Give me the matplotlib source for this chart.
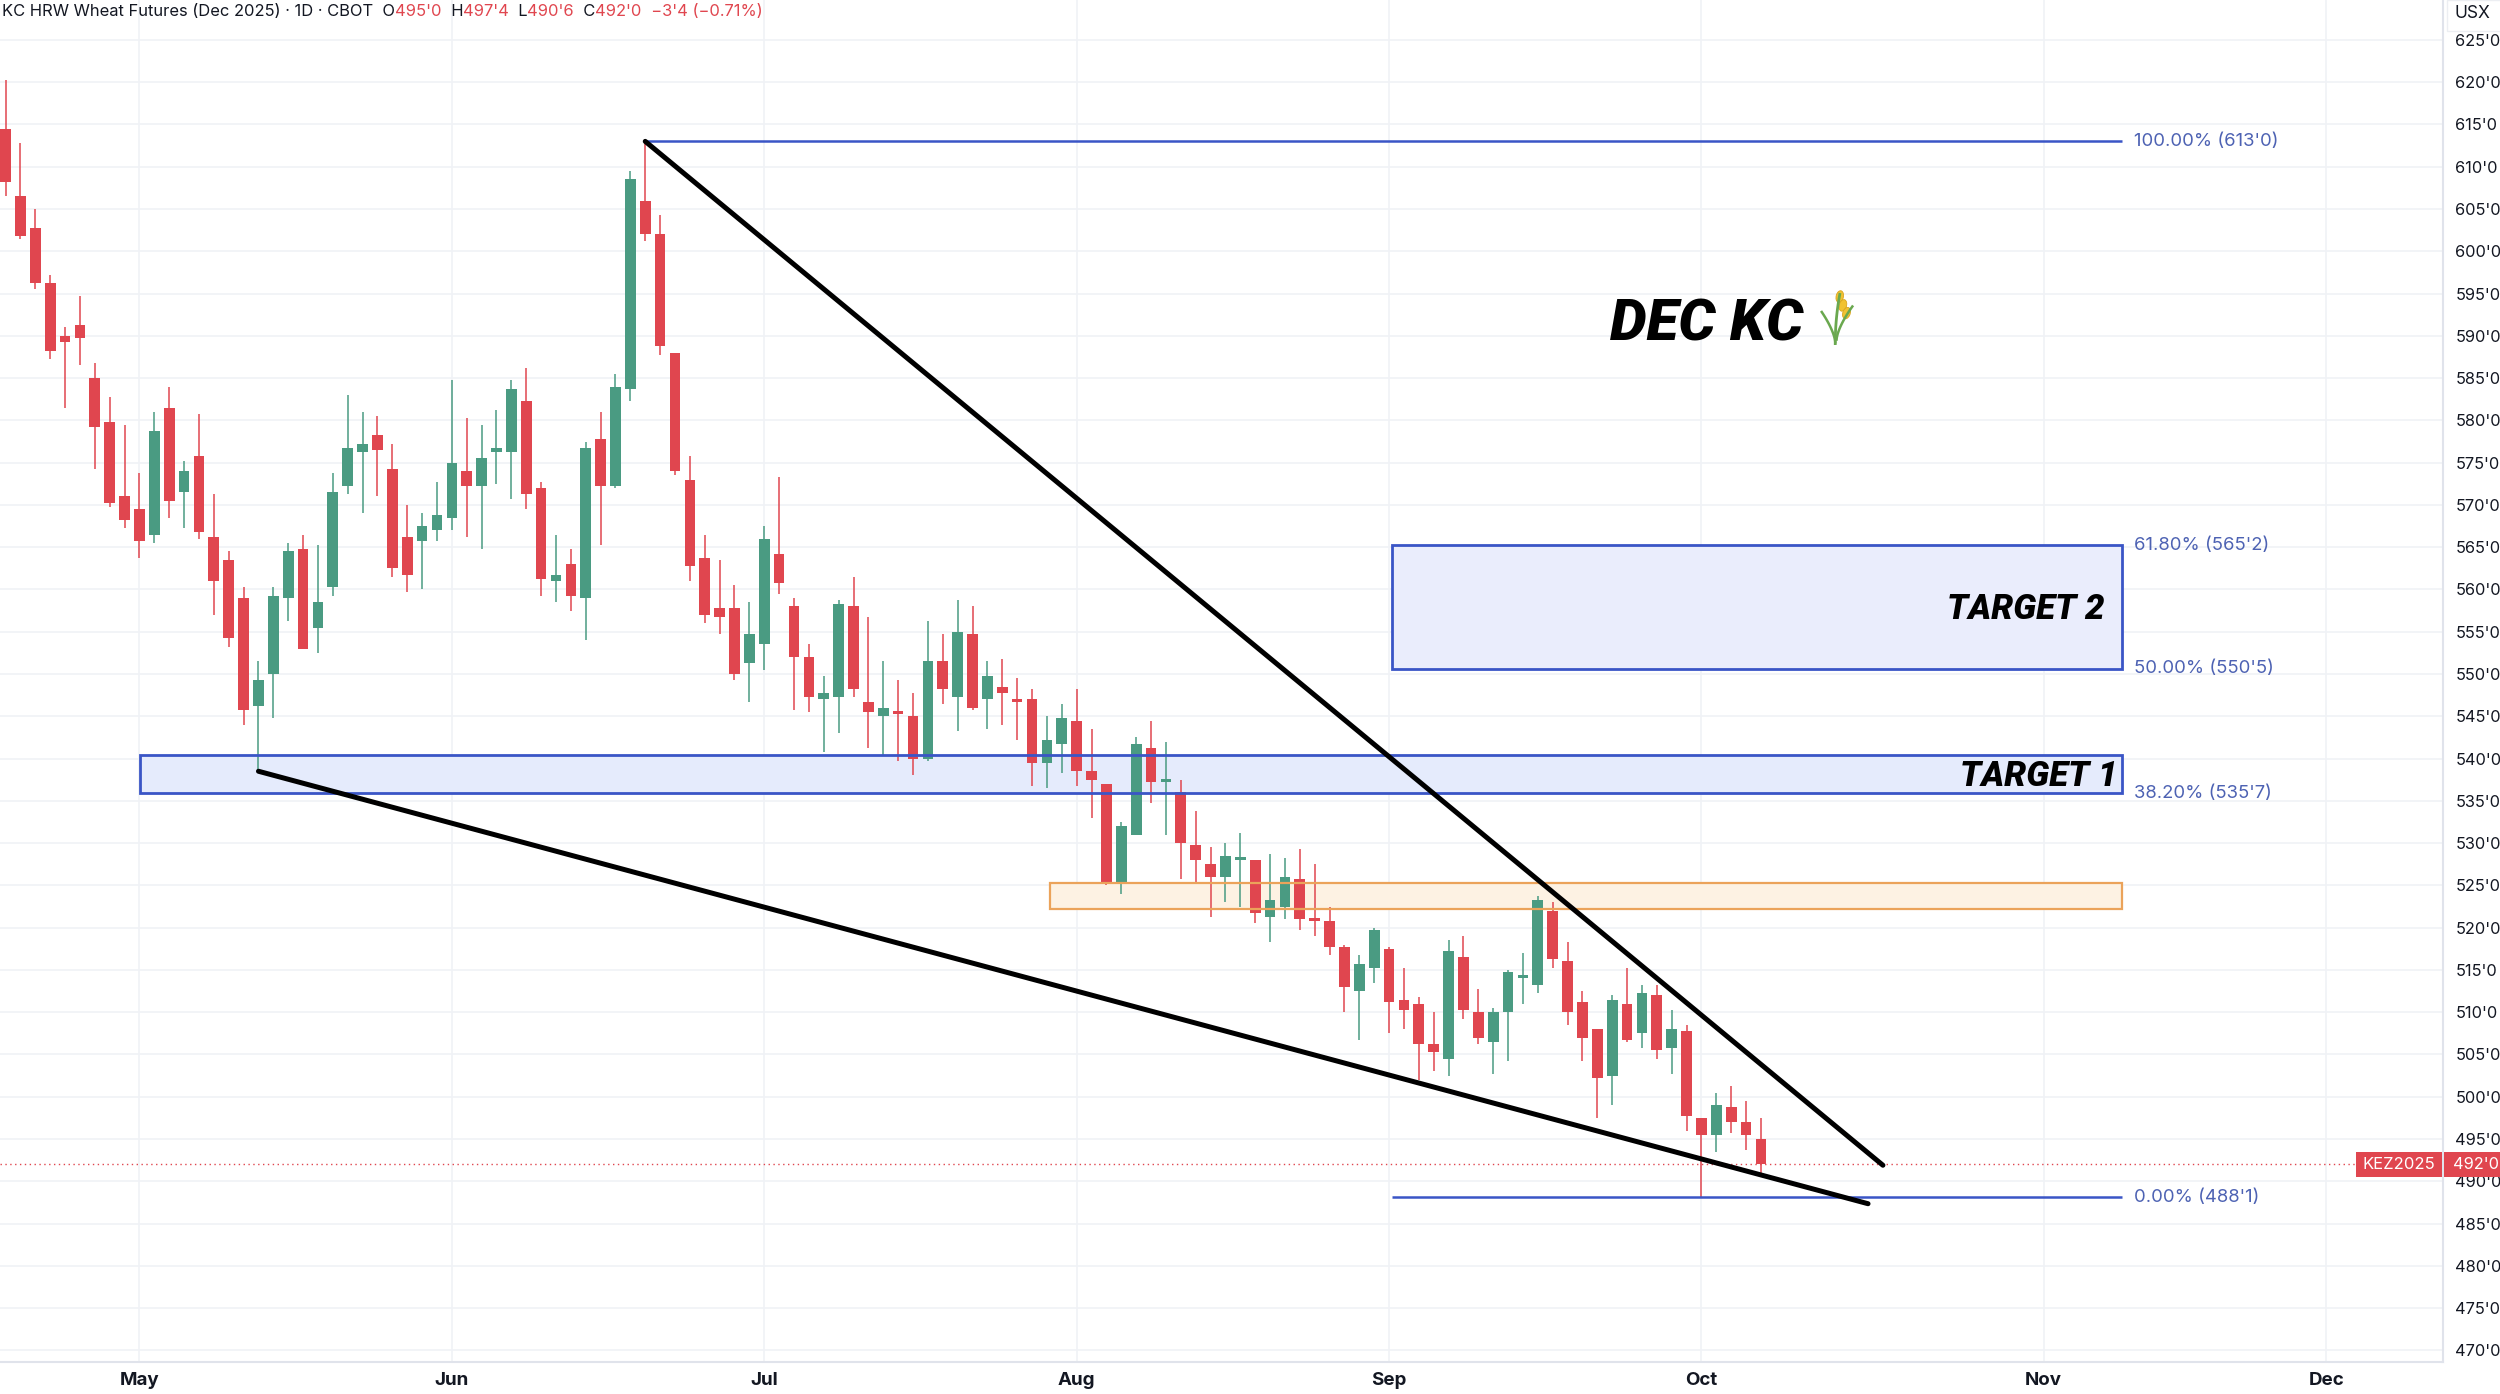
import numpy as np
import matplotlib.pyplot as plt
from matplotlib.patches import Rectangle, Ellipse
from matplotlib.transforms import blended_transform_factory

# daily OHLC, one bar per trading day (bar 0 = mid April 2025, last = Oct 7)
opens = [614.5, 606.5, 602.75, 596.25, 590.0, 591.25, 585.0, 579.75, 571.0, 569.5,
         566.5, 581.5, 571.5, 575.75, 566.25, 563.5, 559.0, 546.25, 550.0, 559.0,
         564.75, 555.5, 560.25, 572.25, 576.25, 578.25, 574.25, 566.25, 565.75, 567.0,
         568.5, 574.0, 572.25, 576.25, 576.25, 582.25, 572.0, 561.0, 563.0, 559.0,
         577.75, 572.25, 583.75, 606.0, 602.0, 588.0, 573.0, 563.75, 557.75, 557.75,
         551.25, 553.5, 564.25, 558.0, 552.0, 547.0, 547.25, 558.0, 546.75, 545.0,
         545.5, 545.0, 540.0, 551.5, 547.25, 554.75, 547.0, 548.5, 547.0, 547.0,
         539.5, 541.75, 544.5, 538.5, 537.0, 525.25, 531.0, 541.25, 537.25, 536.0,
         529.75, 527.5, 526.0, 528.0, 528.0, 521.25, 522.5, 525.75, 521.0, 520.75,
         517.75, 512.5, 515.25, 517.5, 511.5, 511.0, 506.25, 504.5, 516.5, 510.0,
         506.5, 510.0, 514.0, 513.25, 522.0, 516.0, 511.25, 508.0, 502.5, 511.0,
         507.5, 512.0, 505.75, 507.75, 497.5, 495.5, 498.75, 497.0, 495.0]
highs = [620.25, 612.75, 605.0, 597.25, 591.0, 594.75, 586.75, 582.75, 579.5, 573.75,
         581.0, 584.0, 575.25, 580.75, 571.25, 564.5, 560.25, 551.5, 560.25, 565.5,
         566.5, 565.25, 573.75, 583.0, 581.0, 580.5, 577.25, 570.0, 569.0, 572.75,
         584.75, 580.25, 579.5, 581.25, 584.75, 586.25, 572.75, 566.5, 564.75, 577.5,
         581.0, 585.5, 609.5, 613.0, 604.25, 588.0, 575.75, 566.5, 563.5, 560.5,
         558.5, 567.5, 573.25, 559.0, 553.5, 549.75, 558.75, 561.5, 556.75, 551.5,
         549.25, 547.75, 556.25, 554.75, 558.75, 558.0, 551.5, 551.75, 549.5, 548.25,
         545.0, 546.5, 548.25, 543.5, 537.0, 532.5, 542.5, 544.5, 542.0, 537.5,
         533.75, 529.5, 530.0, 531.25, 528.0, 528.75, 528.25, 529.25, 527.5, 522.5,
         518.0, 516.75, 520.0, 517.75, 515.25, 511.75, 510.0, 518.5, 519.0, 512.75,
         510.5, 515.0, 517.0, 523.75, 523.0, 518.25, 512.5, 508.0, 512.0, 515.25,
         513.25, 513.25, 510.25, 508.5, 497.5, 500.5, 501.25, 499.5, 497.5]
lows = [606.5, 601.5, 595.5, 587.25, 581.5, 586.5, 574.25, 569.75, 567.25, 563.75,
        565.5, 568.5, 567.25, 566.0, 557.0, 553.25, 544.0, 538.5, 544.75, 556.25,
        553.0, 552.5, 559.25, 571.25, 569.0, 571.0, 561.5, 559.75, 560.0, 565.75,
        567.0, 566.25, 564.75, 572.5, 570.75, 569.5, 559.25, 558.5, 557.5, 554.0,
        565.25, 572.0, 582.25, 601.25, 587.75, 573.5, 561.0, 556.0, 554.75, 549.25,
        546.75, 550.5, 559.5, 545.75, 545.5, 540.75, 543.0, 547.25, 541.25, 540.25,
        539.75, 538.0, 539.75, 546.5, 543.25, 545.75, 543.5, 544.0, 542.25, 536.75,
        536.5, 538.25, 536.75, 533.0, 525.0, 524.0, 531.0, 534.75, 531.0, 525.75,
        525.25, 521.25, 523.0, 522.5, 520.5, 518.25, 521.0, 519.75, 519.0, 516.75,
        510.0, 506.75, 513.5, 507.5, 508.0, 502.0, 503.0, 502.5, 509.25, 506.25,
        502.75, 504.25, 511.0, 512.25, 515.25, 508.5, 504.25, 497.5, 499.0, 506.5,
        505.75, 504.5, 502.75, 496.0, 488.125, 493.5, 495.75, 493.75, 490.75]
closes = [608.25, 601.75, 596.25, 588.25, 589.25, 589.75, 579.25, 570.25, 568.25, 565.75,
          578.75, 570.5, 574.0, 566.75, 561.0, 554.25, 545.75, 549.25, 559.25, 564.5,
          553.0, 558.5, 571.5, 576.75, 577.25, 576.5, 562.5, 561.75, 567.5, 568.75,
          575.0, 572.25, 575.5, 576.75, 583.75, 571.25, 561.25, 561.75, 559.25, 576.75,
          572.25, 584.0, 608.5, 602.0, 588.75, 574.0, 562.75, 557.0, 556.75, 550.0,
          554.75, 566.0, 560.75, 552.0, 547.25, 547.75, 558.25, 548.25, 545.5, 546.0,
          545.25, 540.0, 551.5, 548.25, 555.0, 546.0, 549.75, 547.75, 546.75, 539.5,
          542.25, 544.75, 538.5, 537.5, 525.25, 532.0, 541.75, 537.25, 537.5, 530.0,
          528.0, 526.0, 528.5, 528.25, 521.75, 523.25, 526.0, 521.0, 520.75, 517.75,
          513.0, 515.75, 519.75, 511.25, 510.25, 506.25, 505.25, 517.25, 510.25, 507.0,
          510.0, 514.75, 514.0, 523.25, 516.25, 510.0, 507.0, 502.25, 511.5, 506.75,
          512.25, 505.5, 508.0, 497.75, 495.5, 499.0, 497.0, 495.5, 492.0]

month_labels = ["May", "Jun", "Jul", "Aug", "Sep", "Oct", "Nov", "Dec"]
month_bars = [9, 30, 51, 72, 93, 114, 137, 156]

fib_levels = [613.0, 565.25, 550.625, 535.875, 488.125]
fib_texts = ["100.00% (613'0)", "61.80% (565'2)", "50.00% (550'5)",
             "38.20% (535'7)", "0.00% (488'1)"]
target1_top = 540.375
zone_low, zone_high = 522.25, 525.25
last_price = 492.0

W, H = 2500, 1394
GREEN = "#4a9b82"
RED = "#e0464f"
BLUE = "#3a55c6"
FIBTXT = "#4d62b3"
TXT = "#131722"

fig = plt.figure(figsize=(W / 100, H / 100), dpi=100)
ax = fig.add_axes([0, 32 / H, 2443 / W, 1362 / H])
ax.set_xlim(-0.375, 163.85)
ax.set_ylim(468.63, 629.72)

# candles
x = np.arange(len(opens))
o, h, l, c = (np.array(v) for v in (opens, highs, lows, closes))
cols = np.where(c >= o, GREEN, RED)
ax.vlines(x, l, h, colors=cols, lw=1.1, zorder=3)
ax.bar(x, np.maximum(np.abs(c - o), 0.35), bottom=np.minimum(o, c),
       width=0.72, color=cols, linewidth=0, zorder=4)

# zones
x_fib0, x_fib1 = 93.2, 142.3
def zone(x0, x1, y0, y1, fc, ec, lw):
    ax.add_patch(Rectangle((x0, y0), x1 - x0, y1 - y0, fc=fc, ec="none", zorder=2))
    ax.add_patch(Rectangle((x0, y0), x1 - x0, y1 - y0, fc="none", ec=ec, lw=lw, zorder=5))

zone(9.06, x_fib1, fib_levels[3], target1_top, "#e5ebfc", BLUE, 2.0)
zone(x_fib0, x_fib1, fib_levels[2], fib_levels[1], "#eaedfc", BLUE, 2.0)
zone(70.2, x_fib1, zone_low, zone_high, "#fdf2e3", "#eba35a", 1.6)

ax.hlines(fib_levels[0], 43, x_fib1, color=BLUE, lw=1.8, zorder=5)
ax.hlines(fib_levels[4], x_fib0, x_fib1, color=BLUE, lw=1.8, zorder=5)
for lvl, s in zip(fib_levels, fib_texts):
    ax.text(143.1, lvl, s, color=FIBTXT, fontsize=13.3, va="center", ha="left",
            family="Inter", zorder=6)

# wedge lines
ax.plot([43, 126.2], [613.0, 491.9], color="black", lw=3.6,
        solid_capstyle="round", zorder=6)
ax.plot([17, 125.2], [538.5, 487.35], color="black", lw=3.6,
        solid_capstyle="round", zorder=6)

ax.axhline(last_price, color=RED, lw=1.0, ls=(0, (1, 2.5)), zorder=1)

heavy = dict(family="Roboto", fontweight="black", style="italic", color="black", zorder=7)
ax.text(107.85, 589.5, "DEC KC", fontsize=42, va="baseline", ha="left", **heavy)
ax.text(141.1, 556.55, "TARGET 2", fontsize=25, va="baseline", ha="right", **heavy)
ax.text(141.95, 536.7, "TARGET 1", fontsize=25, va="baseline", ha="right", **heavy)

# axes styling
ax.yaxis.tick_right()
ax.set_yticks(np.arange(470, 626, 5))
ax.set_yticklabels([f"{v}'0" for v in range(470, 626, 5)])
ax.tick_params(axis="y", length=0, pad=9, labelsize=11.8, labelcolor=TXT)
ax.set_xticks(month_bars)
ax.set_xticklabels(month_labels, fontweight="bold")
ax.tick_params(axis="x", length=0, pad=7, labelsize=13.5, labelcolor=TXT)
for lab in ax.get_xticklabels() + ax.get_yticklabels():
    lab.set_family("Inter")
ax.grid(color="#f0f2f6", lw=1.2)
ax.set_axisbelow(True)
for s in ("left", "top"):
    ax.spines[s].set_visible(False)
for s in ("right", "bottom"):
    ax.spines[s].set_color("#e0e3eb")
    ax.spines[s].set_linewidth(1.5)

# wheat sketch next to the title
aw = fig.add_axes([1815 / W, 1 - 345 / H, 45 / W, 55 / H])
aw.set_xlim(0, 1)
aw.set_ylim(0, 1)
aw.axis("off")
t = np.linspace(0, 1, 30)
aw.plot(0.45 + 0.1 * t ** 2, 0.02 + 0.9 * t, color="#6aa84f", lw=2)
aw.plot(0.45 - 0.3 * t ** 1.5, 0.05 + 0.55 * t, color="#6aa84f", lw=1.8)
aw.plot(0.48 + 0.35 * t ** 1.5, 0.1 + 0.6 * t, color="#6aa84f", lw=1.8)
for gx, gy, ang in [(0.55, 0.88, -20), (0.62, 0.72, -25), (0.7, 0.58, -30)]:
    aw.add_patch(Ellipse((gx, gy), 0.22, 0.16, angle=ang + 90, fc="#f1c232", ec="#d9a520", lw=0.6))

# header
fig.canvas.draw()
r = fig.canvas.get_renderer()
segs = [("KC HRW Wheat Futures (Dec 2025) · 1D · CBOT  O", TXT), ("495'0", RED),
        ("  H", TXT), ("497'4", RED), ("  L", TXT), ("490'6", RED),
        ("  C", TXT), ("492'0", RED), ("  −3'4 (−0.71%)", RED)]
xp = 2
for s, col in segs:
    tx = fig.text(xp / W, 1 - 11 / H, s, color=col, fontsize=11.9, va="center",
                  ha="left", family="Inter")
    xp += tx.get_window_extent(r).width

# last price labels on the price axis
bt = blended_transform_factory(fig.transFigure, ax.transData)
ax.add_patch(Rectangle((2356 / W, last_price - 1.45), 86 / W, 2.9, transform=bt,
                       fc=RED, ec="none", clip_on=False, zorder=10))
ax.add_patch(Rectangle((2444 / W, last_price - 1.45), 56 / W, 2.9, transform=bt,
                       fc=RED, ec="none", clip_on=False, zorder=10))
ax.text(2399 / W, last_price, "KEZ2025", transform=bt, color="white", fontsize=12,
        ha="center", va="center", family="Inter", zorder=11, clip_on=False)
ax.text(2453 / W, last_price, "492'0", transform=bt, color="white", fontsize=11.8,
        ha="left", va="center", family="Inter", zorder=11, clip_on=False)

# currency tag
fig.add_artist(Rectangle((2447 / W, 1 - 31 / H), 60 / W, 31 / H, transform=fig.transFigure,
                         fc="white", ec="#eceef2", lw=1))
fig.text(2455 / W, 1 - 14 / H, "USX", color=TXT, fontsize=12.5, va="center",
         ha="left", family="Inter")

fig.savefig("out.png", dpi=100)
